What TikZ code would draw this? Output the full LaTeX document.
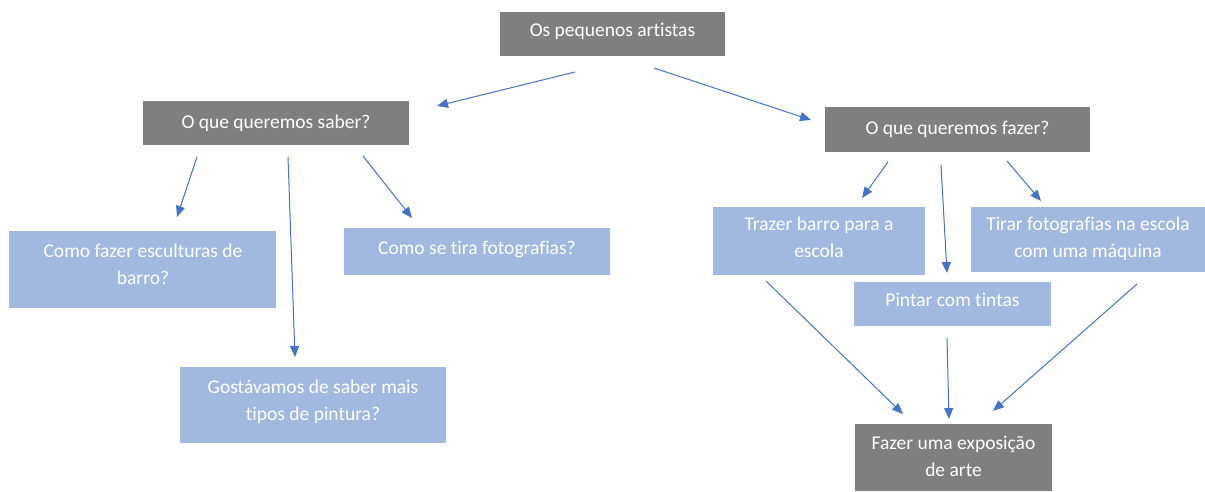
\documentclass[tikz,border=0pt]{standalone}
\usepackage{fontspec}
\setmainfont{Carlito}[Ligatures=NoCommon]
\usetikzlibrary{arrows.meta}
\definecolor{darkbox}{HTML}{7F7F7F}
\definecolor{lightbox}{HTML}{A3B8E0}
\definecolor{arrowblue}{HTML}{4472C4}
\begin{document}
\begin{tikzpicture}[x=1pt,y=-1pt,
  darkrect/.style={fill=darkbox,draw=none,inner sep=0pt,anchor=north west},
  lightrect/.style={fill=lightbox,draw=none,inner sep=0pt,anchor=north west},
  txt/.style={text=white,font=\fontsize{19.5}{27}\selectfont,anchor=base,inner sep=0pt},
  conn/.style={draw=arrowblue,line width=1pt,-{Triangle[length=11pt,width=9pt]}}]
\fill[white] (0,0) rectangle (1205,491);
\useasboundingbox (0,0) rectangle (1205,491);
% boxes
\node[darkrect,minimum width=225pt,minimum height=44pt] (top) at (500,12) {};
\node[darkrect,minimum width=266pt,minimum height=44pt] (saber) at (143,101) {};
\node[darkrect,minimum width=265pt,minimum height=45pt] (fazer) at (825,107) {};
\node[lightrect,minimum width=267pt,minimum height=77pt] (esc) at (9,231) {};
\node[lightrect,minimum width=266pt,minimum height=47pt] (foto) at (344,228) {};
\node[lightrect,minimum width=266pt,minimum height=76pt] (gost) at (180,367) {};
\node[lightrect,minimum width=212pt,minimum height=68pt] (traz) at (713,207) {};
\node[lightrect,minimum width=234pt,minimum height=65pt] (tirar) at (971,207) {};
\node[lightrect,minimum width=197pt,minimum height=44pt] (pint) at (854,282) {};
\node[darkrect,minimum width=197pt,minimum height=67pt] (expo) at (855,424) {};
% texts
\node[txt] (ttop) at (612.5,36) {Os pequenos artistas};
\node[txt] (tsaber) at (276,128) {O que queremos saber?};
\node[txt] (tfazer) at (957.5,134) {O que queremos fazer?};
\node[txt] (tesc1) at (143,257) {Como fazer esculturas de};
\node[txt] (tesc2) at (143,284) {barro?};
\node[txt] (tfoto) at (477,254) {Como se tira fotografias?};
\node[txt] (tgost1) at (313,393) {Gostávamos de saber mais};
\node[txt] (tgost2) at (313,420) {tipos de pintura?};
\node[txt] (ttraz1) at (819,230) {Trazer barro para a};
\node[txt] (ttraz2) at (819,257) {escola};
\node[txt] (ttir1) at (1088,230) {Tirar fotografias na escola};
\node[txt] (ttir2) at (1088,257) {com uma máquina};
\node[txt] (tpint) at (952.5,306) {Pintar com tintas};
\node[txt] (texpo1) at (953.5,449) {Fazer uma exposição};
\node[txt] (texpo2) at (953.5,476) {de arte};
% connector end points
\coordinate (a1s) at (575,72);  \coordinate (a1e) at (437,106);
\coordinate (a2s) at (654,68);  \coordinate (a2e) at (811,120);
\coordinate (a3s) at (197,157); \coordinate (a3e) at (177,217);
\coordinate (a4s) at (288,157); \coordinate (a4e) at (295,357);
\coordinate (a5s) at (363,156); \coordinate (a5e) at (412,218);
\coordinate (a6s) at (888,162); \coordinate (a6e) at (862,198);
\coordinate (a7s) at (941,165); \coordinate (a7e) at (947,273);
\coordinate (a8s) at (1007,161); \coordinate (a8e) at (1041,201);
\coordinate (a9s) at (766,281); \coordinate (a9e) at (903,414);
\coordinate (a10s) at (947,338); \coordinate (a10e) at (949,419);
\coordinate (a11s) at (1137,284); \coordinate (a11e) at (993,411);
\foreach \i in {1,...,11} {\draw[conn] (a\i s) -- (a\i e);}
\end{tikzpicture}
\end{document}
